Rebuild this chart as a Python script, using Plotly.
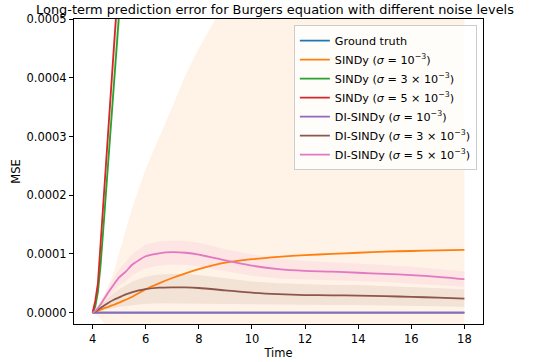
import plotly.graph_objects as go

# ---------------- data (MSE values in units of 1e-4) ----------------
SCALE = 1e-4
time = [4.0, 4.1, 4.2, 4.3, 4.4, 4.5, 4.6, 4.8, 5.0, 5.25, 5.5, 6.0, 6.5, 7.0, 7.5,
        8.0, 9.0, 10.0, 11.0, 12.0, 13.0, 14.0, 15.0, 16.0, 17.0, 18.0]

ground_truth = [0.0] * 26

sindy_1 = [0, 0.015, 0.03, 0.05, 0.07, 0.085, 0.10, 0.135, 0.17, 0.22, 0.27, 0.40, 0.50,
           0.59, 0.67, 0.74, 0.85, 0.91, 0.95, 0.98, 1.00, 1.02, 1.04, 1.05, 1.06, 1.07]
sindy_1_hi = [0, 0.06, 0.13, 0.20, 0.28, 0.37, 0.46, 0.70, 1.02, 1.41, 1.80, 2.45, 2.97,
              3.50, 4.05, 4.50, 5.30, 5.90, 6.30, 6.60, 6.80, 6.95, 7.05, 7.10, 7.15, 7.20]
sindy_1_lo = [0, -0.03, -0.07, -0.11, -0.16, -0.22, -0.30, -0.50, -0.70, -0.95, -1.2,
              -1.6, -2.0, -2.3, -2.7, -3.0, -3.6, -4.0, -4.4, -4.6, -4.8, -4.9, -5.0,
              -5.0, -5.0, -5.1]

sindy_3 = [0, 0.1, 0.35, 0.8, 1.4, 2.0, 2.65, 3.9, 5.1, 6.8, 8.6, 13, 18, 23, 29, 36,
           50, 66, 84, 104, 126, 150, 176, 204, 234, 266]
sindy_5 = [0, 0.2, 0.5, 1.2, 1.85, 2.5, 3.2, 4.5, 5.8, 7.5, 9.5, 14, 19, 25, 31, 38,
           53, 70, 89, 110, 133, 158, 185, 214, 245, 278]

di_sindy_1 = [0.0] * 26

di_sindy_3 = [0, 0.02, 0.05, 0.08, 0.11, 0.14, 0.17, 0.22, 0.26, 0.31, 0.35, 0.40, 0.425,
              0.43, 0.43, 0.42, 0.38, 0.34, 0.315, 0.30, 0.295, 0.29, 0.28, 0.27, 0.255, 0.24]
di_sindy_3_hi = [0, 0.03, 0.08, 0.12, 0.17, 0.21, 0.26, 0.34, 0.40, 0.47, 0.53, 0.61, 0.65,
                 0.66, 0.66, 0.64, 0.58, 0.53, 0.50, 0.48, 0.47, 0.47, 0.45, 0.44, 0.42, 0.40]
di_sindy_3_lo = [0, 0.01, 0.02, 0.03, 0.04, 0.05, 0.06, 0.08, 0.10, 0.11, 0.13, 0.15, 0.16,
                 0.16, 0.16, 0.16, 0.15, 0.145, 0.14, 0.135, 0.13, 0.13, 0.12, 0.115, 0.11, 0.10]

di_sindy_5 = [0, 0.03, 0.08, 0.14, 0.21, 0.28, 0.35, 0.48, 0.60, 0.70, 0.82, 0.96, 1.01,
              1.03, 1.02, 0.99, 0.89, 0.80, 0.74, 0.71, 0.70, 0.68, 0.66, 0.64, 0.61, 0.57]
di_sindy_5_hi = [0, 0.04, 0.10, 0.17, 0.26, 0.34, 0.43, 0.59, 0.74, 0.87, 1.00, 1.16, 1.21,
                 1.23, 1.22, 1.19, 1.08, 0.99, 0.92, 0.88, 0.86, 0.84, 0.81, 0.78, 0.74, 0.70]
di_sindy_5_lo = [0, 0.02, 0.06, 0.11, 0.16, 0.22, 0.27, 0.37, 0.46, 0.53, 0.64, 0.76, 0.80,
                 0.82, 0.81, 0.79, 0.71, 0.63, 0.58, 0.56, 0.55, 0.54, 0.52, 0.50, 0.47, 0.44]

x_ticks = [4, 6, 8, 10, 12, 14, 16, 18]
y_ticks = [0, 0.0001, 0.0002, 0.0003, 0.0004, 0.0005]

names = ["Ground truth",
         "SINDy (<i>σ</i> = 10<sup>−3</sup>)",
         "SINDy (<i>σ</i> = 3 × 10<sup>−3</sup>)",
         "SINDy (<i>σ</i> = 5 × 10<sup>−3</sup>)",
         "DI-SINDy (<i>σ</i> = 10<sup>−3</sup>)",
         "DI-SINDy (<i>σ</i> = 3 × 10<sup>−3</sup>)",
         "DI-SINDy (<i>σ</i> = 5 × 10<sup>−3</sup>)"]
colors = ["#1f77b4", "#ff7f0e", "#2ca02c", "#d62728", "#9467bd", "#8c564b", "#e377c2"]
shapes = ["linear", "spline", "linear", "linear", "linear", "spline", "spline"]

# ---------------- figure ----------------
def sc(v):
    return [a * SCALE for a in v]

def rgba(hexc, a):
    h = hexc.lstrip("#")
    return f"rgba({int(h[0:2],16)},{int(h[2:4],16)},{int(h[4:6],16)},{a})"

fig = go.Figure()

bands = [
    (sindy_1_lo, sindy_1_hi, colors[1]),
    ([v * 0.93 for v in sindy_3], [v * 1.07 for v in sindy_3], colors[2]),
    ([v * 0.93 for v in sindy_5], [v * 1.07 for v in sindy_5], colors[3]),
    (di_sindy_3_lo, di_sindy_3_hi, colors[5]),
    (di_sindy_5_lo, di_sindy_5_hi, colors[6]),
]
for lo, hi, c in bands:
    fig.add_trace(go.Scatter(
        x=time + time[::-1], y=sc(hi) + sc(lo)[::-1],
        fill="toself", fillcolor=rgba(c, 0.1), line=dict(width=0),
        mode="lines", showlegend=False, hoverinfo="skip"))

series = [ground_truth, sindy_1, sindy_3, sindy_5, di_sindy_1, di_sindy_3, di_sindy_5]
for s, n, c, sh in zip(series, names, colors, shapes):
    fig.add_trace(go.Scatter(x=time, y=sc(s), mode="lines", name=n,
                             line=dict(color=c, width=1.8, shape=sh, smoothing=0.6)))

FONT = "DejaVu Sans"
fig.update_layout(
    width=533, height=362,
    margin=dict(l=74, r=50, t=19, b=38, autoexpand=False),
    plot_bgcolor="white", paper_bgcolor="white",
    font=dict(family=FONT, size=11.5, color="black"),
    title=dict(text="Long-term prediction error for Burgers equation with different noise levels",
               x=275 / 533, xref="container", xanchor="center",
               y=1 - 9 / 362, yref="container", yanchor="middle",
               font=dict(family=FONT, size=12.9, color="black"),
               automargin=False),
    showlegend=True,
    legend=dict(x=0.985, y=0.98, xanchor="right", yanchor="top",
                bgcolor="rgba(255,255,255,0.8)", bordercolor="#cccccc", borderwidth=1,
                font=dict(family=FONT, size=11.2, color="black"),
                itemwidth=30, tracegroupgap=0),
)
fig.update_xaxes(range=[3.3, 18.7], tickvals=x_ticks, ticks="outside", ticklen=4,
                 tickcolor="black", showline=True, linecolor="black", linewidth=1,
                 mirror=True, showgrid=False, zeroline=False, automargin=False,
                 title=dict(text="Time", standoff=4, font=dict(size=11.5)))
fig.update_yaxes(range=[-0.0000193, 0.0005], tickvals=y_ticks, tickformat=".4f",
                 ticks="outside", ticklen=4, tickcolor="black", showline=True,
                 linecolor="black", linewidth=1, mirror=True, showgrid=False,
                 zeroline=False, automargin=False,
                 title=dict(text="MSE", standoff=3, font=dict(size=11.5)))

fig.write_html("out.html", config={"displayModeBar": False},
               post_script="document.body.style.margin='0';")
